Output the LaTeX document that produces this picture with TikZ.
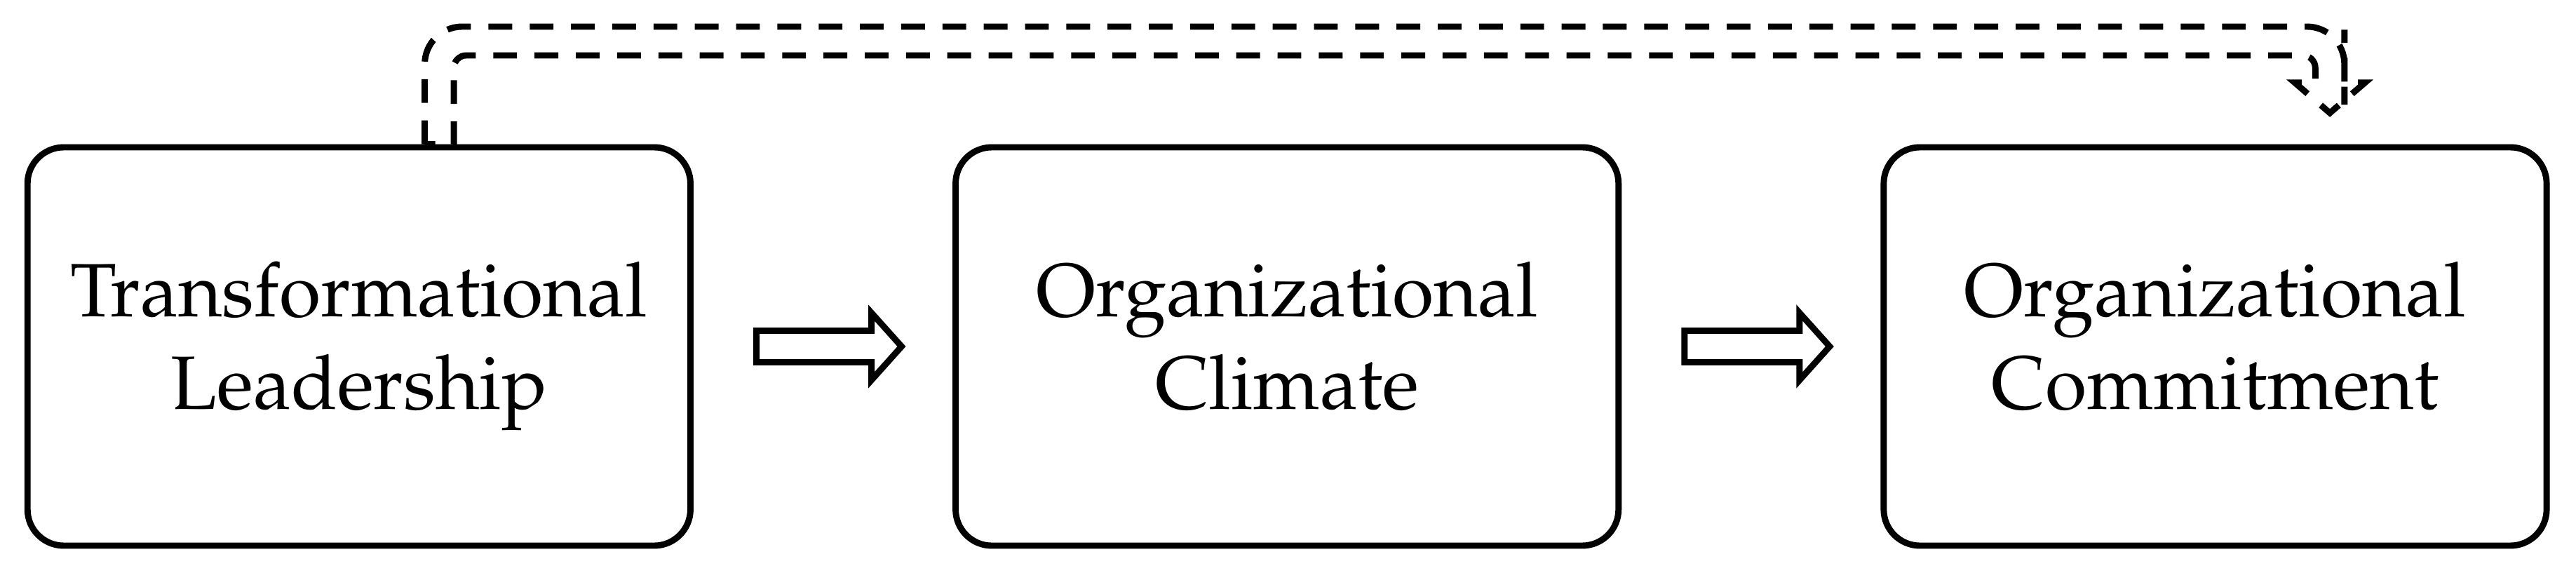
\documentclass[tikz,border=0pt]{standalone}
\usepackage[T1]{fontenc}
\usepackage{mathpazo}
\usepackage{tikz}
\usetikzlibrary{calc}
\tikzset{stage box/.style={draw=black, line width=1pt, rounded corners=5.8pt,
           minimum width=106pt, minimum height=63.7pt, align=center,
           font=\fontsize{12.1}{14.75}\selectfont,
           execute at begin node={\rule{0pt}{11pt}},
           execute at end node={\rule[-3.52pt]{0pt}{3.52pt}}},
     step arrow/.style={draw=black, line width=1pt, fill=white},
     feedback/.style={draw=black, line width=1pt, dash pattern=on 3.8pt off 2.8pt}
     }
\def\StepArrow#1#2{%
  \coordinate (#1#2) at ($(#1.east)!0.5!(#2.west)+(0.9,0)$);
  \draw[step arrow] ($(#1#2)+(-11.55,2.52)$) -- ($(#1#2)+(6.84,2.52)$)
     -- ($(#1#2)+(6.84,5.38)$) -- ($(#1#2)+(11.66,0)$) -- ($(#1#2)+(6.84,-5.38)$)
     -- ($(#1#2)+(6.84,-2.52)$) -- ($(#1#2)+(-11.55,-2.52)$) -- cycle;
}
\begin{document}
\begin{tikzpicture}[x=1pt, y=1pt]
\useasboundingbox (0,0) rectangle (411.9,-90.5);
\node (TL) [stage box] at (57.4,-55.4) {Transformational\\Leadership};
\node (OCl) [stage box] at (205.8,-55.4) {Organizational\\Climate};
\node (OCo) [stage box] at (354.2,-55.4) {Organizational\\Commitment};
\StepArrow{TL}{OCl}
\StepArrow{OCl}{OCo}
% hollow bent arrow from TL over to OCo
\coordinate (FBs) at ([xshift=12.84pt]TL.north);
\coordinate (FBe) at ([xshift=18.34pt]OCo.north);
\draw[feedback] ($(FBs)+(-2.33,0)$) -- ($(FBs)+(-2.33,8)$)
  [rounded corners=6pt] -- ($(FBs)+(-2.33,18.79)$) -- ($(FBe)+(2.33,18.79)$)
  -- ($(FBe)+(2.33,12.3)$) [sharp corners] -- ($(FBe)+(2.33,9.82)$)
  -- ($(FBe)+(5.6,9.82)$) -- ($(FBe)+(0,4.99)$) -- ($(FBe)+(-5.6,9.82)$)
  -- ($(FBe)+(-2.33,9.82)$) -- ($(FBe)+(-2.33,12)$)
  [rounded corners=2pt] -- ($(FBe)+(-2.33,14.19)$) -- ($(FBs)+(2.33,14.19)$)
  -- ($(FBs)+(2.33,8)$) [sharp corners] -- ($(FBs)+(2.33,0)$) -- cycle;
\end{tikzpicture}
\end{document}
